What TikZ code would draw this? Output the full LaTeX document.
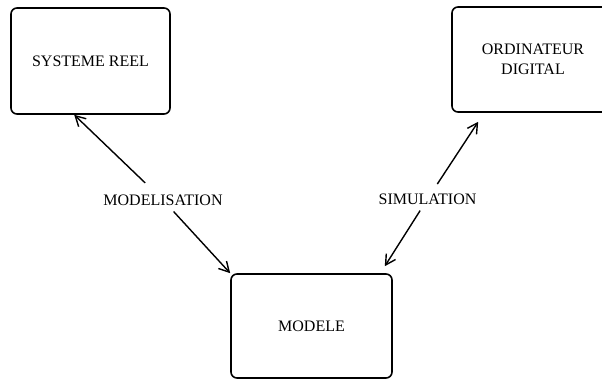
\documentclass[tikz,border=0pt]{standalone}
\usepackage{fontspec}
\setmainfont{Liberation Serif}
\usetikzlibrary{arrows.meta}
\tikzset{
	bloc/.style={draw, line width=1.6pt, rounded corners=6pt, inner sep=0pt, font=\fontsize{16}{20}\selectfont, align=center},
	lbl/.style={inner xsep=2pt, inner ysep=6pt, font=\fontsize{16}{20}\selectfont},
	fleche/.style={line width=1.4pt, -{Straight Barb[length=10pt,width=11pt,line width=1.4pt]}}
}
\begin{document}
\begin{tikzpicture}[x=1pt, y=-1pt]
	\useasboundingbox (0, 0) rectangle (602, 380);
	\node[bloc, minimum width=159pt, minimum height=106pt] at (90.5, 61) (reel) {SYSTEME REEL};
	\node[bloc, minimum width=162pt, minimum height=105pt] at (533, 59.5) (ordi) {ORDINATEUR\\DIGITAL};
	\node[bloc, minimum width=161pt, minimum height=104pt] at (311.5, 326) (modele) {MODELE};
	\node[lbl] at (163, 200) (modlbl) {MODELISATION};
	\draw[fleche, shorten <=8pt] (modlbl) -- ([xshift=64pt]reel.south west);
	\draw[fleche] (modlbl) -- (modele.north west);
	\node[lbl] at (427.5, 199) (simlbl) {SIMULATION};
	\draw[fleche, shorten <=4pt] (simlbl) -- ([xshift=27pt, yshift=-9pt]ordi.south west);
	\draw[fleche] (simlbl) -- ([xshift=-8pt, yshift=7pt]modele.north east);
\end{tikzpicture}
\end{document}
